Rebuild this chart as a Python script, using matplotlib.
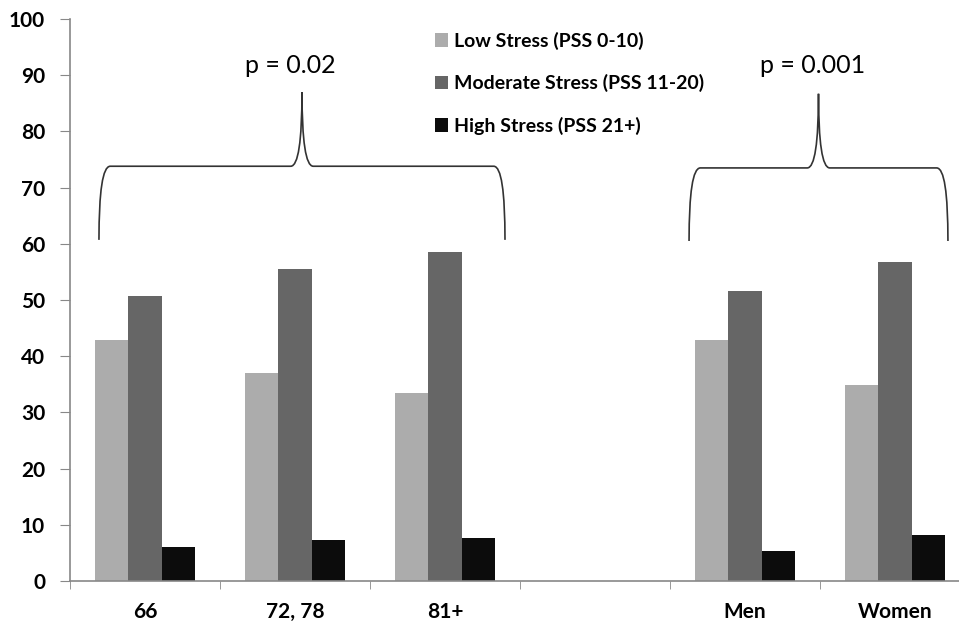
import numpy as np
import matplotlib.pyplot as plt
from matplotlib.path import Path
from matplotlib.patches import PathPatch, Patch

plt.rcParams['font.family'] = ['Lato', 'DejaVu Sans']

categories = ['66', '72, 78', '81+', '', 'Men', 'Women']
low = [42.9, 37.0, 33.4, 0, 42.9, 34.9]
moderate = [50.7, 55.5, 58.5, 0, 51.6, 56.7]
high = [6.1, 7.3, 7.7, 0, 5.3, 8.2]
series_names = ['Low Stress (PSS 0-10)', 'Moderate Stress (PSS 11-20)', 'High Stress (PSS 21+)']
colors = ['#acacac', '#666666', '#0c0c0c']
p_labels = ['p = 0.02', 'p = 0.001']

fig = plt.figure(figsize=(9.59, 6.25), dpi=100)
ax = fig.add_axes([70/959, 44/625, 900/959, 562/625])

x = np.arange(len(categories))
w = 0.222
for i, vals in enumerate([low, moderate, high]):
    ax.bar(x + (i - 1) * w, vals, w, color=colors[i], linewidth=0)

ax.set_xlim(-0.5, len(categories) - 0.5)
ax.set_ylim(0, 100)
ax.set_yticks(np.arange(0, 101, 10))
ax.set_xticks(x)
ax.set_xticklabels(categories, fontweight='bold', fontsize=15)
ax.set_xticks(np.arange(-0.5, len(categories)), minor=True)
ax.tick_params(axis='x', which='major', length=0, pad=15)
ax.tick_params(axis='x', which='minor', length=6, color='#888888', direction='out')
ax.tick_params(axis='y', length=7, color='#888888', labelsize=15, pad=11)
for t in ax.get_yticklabels():
    t.set_fontweight('bold')
for s in ['top', 'right']:
    ax.spines[s].set_visible(False)
for s in ['left', 'bottom']:
    ax.spines[s].set_color('#888888')
    ax.spines[s].set_linewidth(1.2)


# curly braces above the groups
def brace(x0, x1, yb, yh, yp):
    xc = (x0 + x1) / 2
    dx = 0.075
    verts = [(x0, yb), (x0, yh), (x0 + dx, yh),
             (xc - dx, yh), (xc, yh), (xc, yp),
             (xc, yh), (xc + dx, yh),
             (x1 - dx, yh), (x1, yh), (x1, yb)]
    codes = [Path.MOVETO, Path.CURVE3, Path.CURVE3,
             Path.LINETO, Path.CURVE3, Path.CURVE3,
             Path.CURVE3, Path.CURVE3,
             Path.LINETO, Path.CURVE3, Path.CURVE3]
    ax.add_patch(PathPatch(Path(verts, codes), fill=False, edgecolor='#333333', lw=1.2))


brace(-0.307, 2.40, 60.7, 73.8, 87.0)
brace(3.627, 5.353, 60.5, 73.5, 86.7)
ax.text(0.967, 91.8, p_labels[0], ha='center', va='center', fontsize=18)
ax.text(4.45, 91.8, p_labels[1], ha='center', va='center', fontsize=18)

handles = [Patch(facecolor=c, edgecolor='none') for c in colors]
ax.legend(handles, series_names, loc='upper left', bbox_to_anchor=(425/959, 1 - 22/625),
          bbox_transform=fig.transFigure, frameon=False, prop={'weight': 'bold', 'size': 14},
          handlelength=0.7, handleheight=0.7, handletextpad=0.3, labelspacing=1.25, borderpad=0)

fig.savefig('out.png', dpi=100)
